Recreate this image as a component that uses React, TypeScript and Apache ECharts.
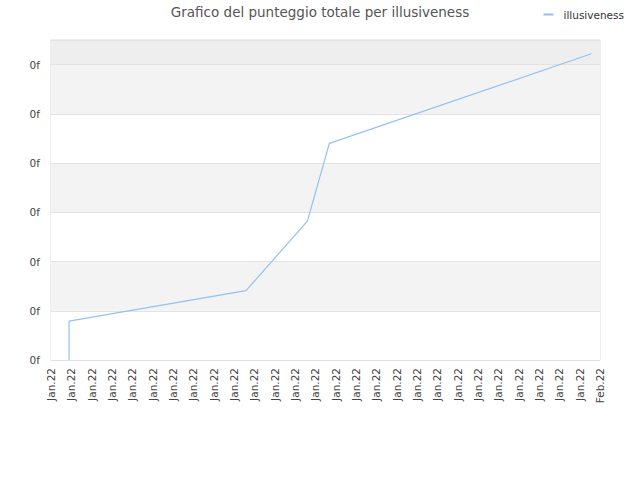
import { useRef, useEffect } from 'react'
import * as echarts from 'echarts'

// x in day positions along the axis (0 = first tick), y in score units
const pointX = [0.89, 0.89, 9.59, 12.61, 13.69, 26.58]
const pointY = [0, 0.79, 1.41, 2.82, 4.4, 6.22]

const tickLabels = [
  'Jan.22', 'Jan.22', 'Jan.22', 'Jan.22', 'Jan.22', 'Jan.22', 'Jan.22',
  'Jan.22', 'Jan.22', 'Jan.22', 'Jan.22', 'Jan.22', 'Jan.22', 'Jan.22',
  'Jan.22', 'Jan.22', 'Jan.22', 'Jan.22', 'Jan.22', 'Jan.22', 'Jan.22',
  'Jan.22', 'Jan.22', 'Jan.22', 'Jan.22', 'Jan.22', 'Jan.22', 'Feb.22',
]

export default function App() {
  const chartRef = useRef<HTMLDivElement>(null)

  useEffect(() => {
    if (!chartRef.current) return
    const instance = echarts.init(chartRef.current, undefined, { renderer: 'svg' })

    instance.setOption({
      animation: false,
      textStyle: { fontFamily: 'DejaVu Sans' },
      title: {
        text: 'Grafico del punteggio totale per illusiveness',
        left: 'center',
        top: 0,
        textStyle: { fontSize: 13.5, fontWeight: 'normal', color: '#555' },
      },
      legend: {
        right: 11,
        top: 4,
        itemWidth: 10,
        itemHeight: 2,
        icon: 'rect',
        textStyle: { fontSize: 10.5, color: '#333', padding: [0, 0, 0, 5] },
        data: ['illusiveness'],
      },
      grid: {
        left: 51,
        right: 40,
        top: 40,
        bottom: 120,
        show: true,
        borderColor: '#ddd',
        borderWidth: 1,
      },
      xAxis: {
        type: 'value',
        min: 0,
        max: tickLabels.length - 1,
        interval: 1,
        axisLine: { show: false },
        axisTick: { show: false },
        splitLine: { show: false },
        axisLabel: {
          rotate: 90,
          fontSize: 10.5,
          color: '#444',
          margin: 8,
          formatter: (v: number) => tickLabels[Math.round(v)] ?? '',
        },
      },
      yAxis: {
        type: 'value',
        min: 0,
        max: 6.5,
        interval: 1,
        axisLine: { show: false },
        axisTick: { show: false },
        axisLabel: {
          fontSize: 10.5,
          color: '#444',
          margin: 11,
          showMaxLabel: false,
          formatter: () => '0f',
        },
        splitLine: { lineStyle: { color: '#e2e2e2' } },
        splitArea: {
          show: true,
          areaStyle: {
            color: ['#ffffff', '#f3f3f3', '#ffffff', '#f3f3f3', '#ffffff', '#f3f3f3', '#eeeeee'],
          },
        },
      },
      series: [
        {
          name: 'illusiveness',
          type: 'line',
          data: pointX.map((x, i) => [x, pointY[i]]),
          showSymbol: false,
          symbol: 'none',
          lineStyle: { color: '#92c1f2', width: 1.2 },
          itemStyle: { color: '#92c1f2' },
        },
      ],
    })

    return () => {
      instance.dispose()
    }
  }, [])

  return (
    <div
      ref={chartRef}
      style={{ position: 'absolute', left: 0, top: 0, width: 640, height: 480 }}
    />
  )
}
